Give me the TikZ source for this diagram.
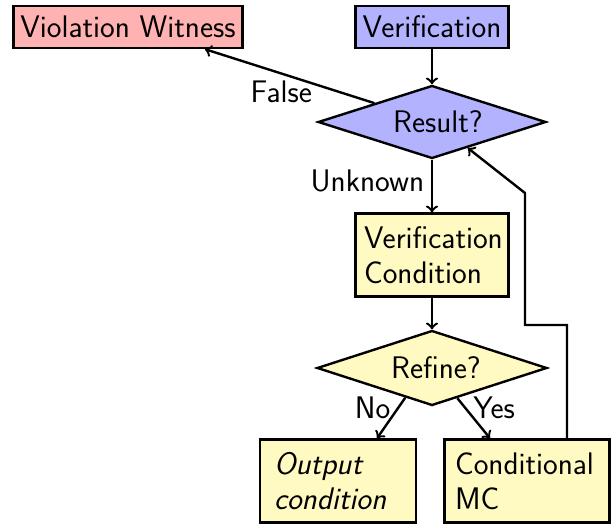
\documentclass[tikz,border=0pt]{standalone}
\usetikzlibrary{shapes.geometric}
\definecolor{condyellow}{RGB}{255,249,194}
\begin{document}
\begin{tikzpicture}[x=0.5pt,y=-0.5pt,
    font=\sffamily\fontsize{15.6}{17.5}\selectfont,
    box/.style={draw,line width=1.2pt,minimum height=21pt,inner xsep=3.5pt},
    condbox/.style={draw,line width=1.2pt,fill=condyellow,minimum height=41.5pt,align=left,inner xsep=5.5pt},
    decision/.style={draw,line width=1.2pt,diamond,aspect=3,inner sep=1pt},
    flow/.style={->,line width=1.2pt}]
  \useasboundingbox (0,0) rectangle (611,524);
  % top row
  \node[box,fill=red!30] (VW) at (128,27) {Violation Witness};
  \node[box,fill=blue!30] (Ver) at (432,27) {Verification};
  % checks
  \node[decision,fill=blue!30,minimum width=114pt,minimum height=36.5pt] (Res) at (432,122) {\hspace{6pt}Result?};
  \node[condbox,text width=68pt,inner xsep=4.25pt] (VC) at (432,255) {Verification\\Condition};
  \node[decision,fill=condyellow,minimum width=115pt,minimum height=37.5pt] (Ref) at (432,368) {\hspace{4pt}Refine?};
  % outcomes
  \node[condbox,text width=64pt,inner xsep=7pt] (OC) at (338,481) {\itshape Output\\condition};
  \node[condbox,text width=72pt,inner xsep=5.25pt] (CMC) at (527,481) {Conditional\\MC};
  % flow
  \draw[flow] (Ver) -- (Res);
  \draw[flow] (Res.north west) -- node[below,pos=0.55]{False} ([xshift=38.5pt]VW.south);
  \draw[flow] (Res) -- node[left,pos=0.4]{Unknown} (VC);
  \draw[flow] (VC) -- (Ref);
  \draw[flow] (Ref.228) -- node[left,pos=0.25]{No} ([xshift=19.5pt]OC.north);
  \draw[flow] (Ref.310) -- node[right,pos=0.25]{Yes} ([xshift=-18.5pt]CMC.north);
  % back to the check
  \coordinate (back1) at (525,325);
  \coordinate (back2) at (525,193);
  \draw[flow] ([xshift=20pt]CMC.north) |- (back1) -- (back2) -- (Res.324);
\end{tikzpicture}
\end{document}
